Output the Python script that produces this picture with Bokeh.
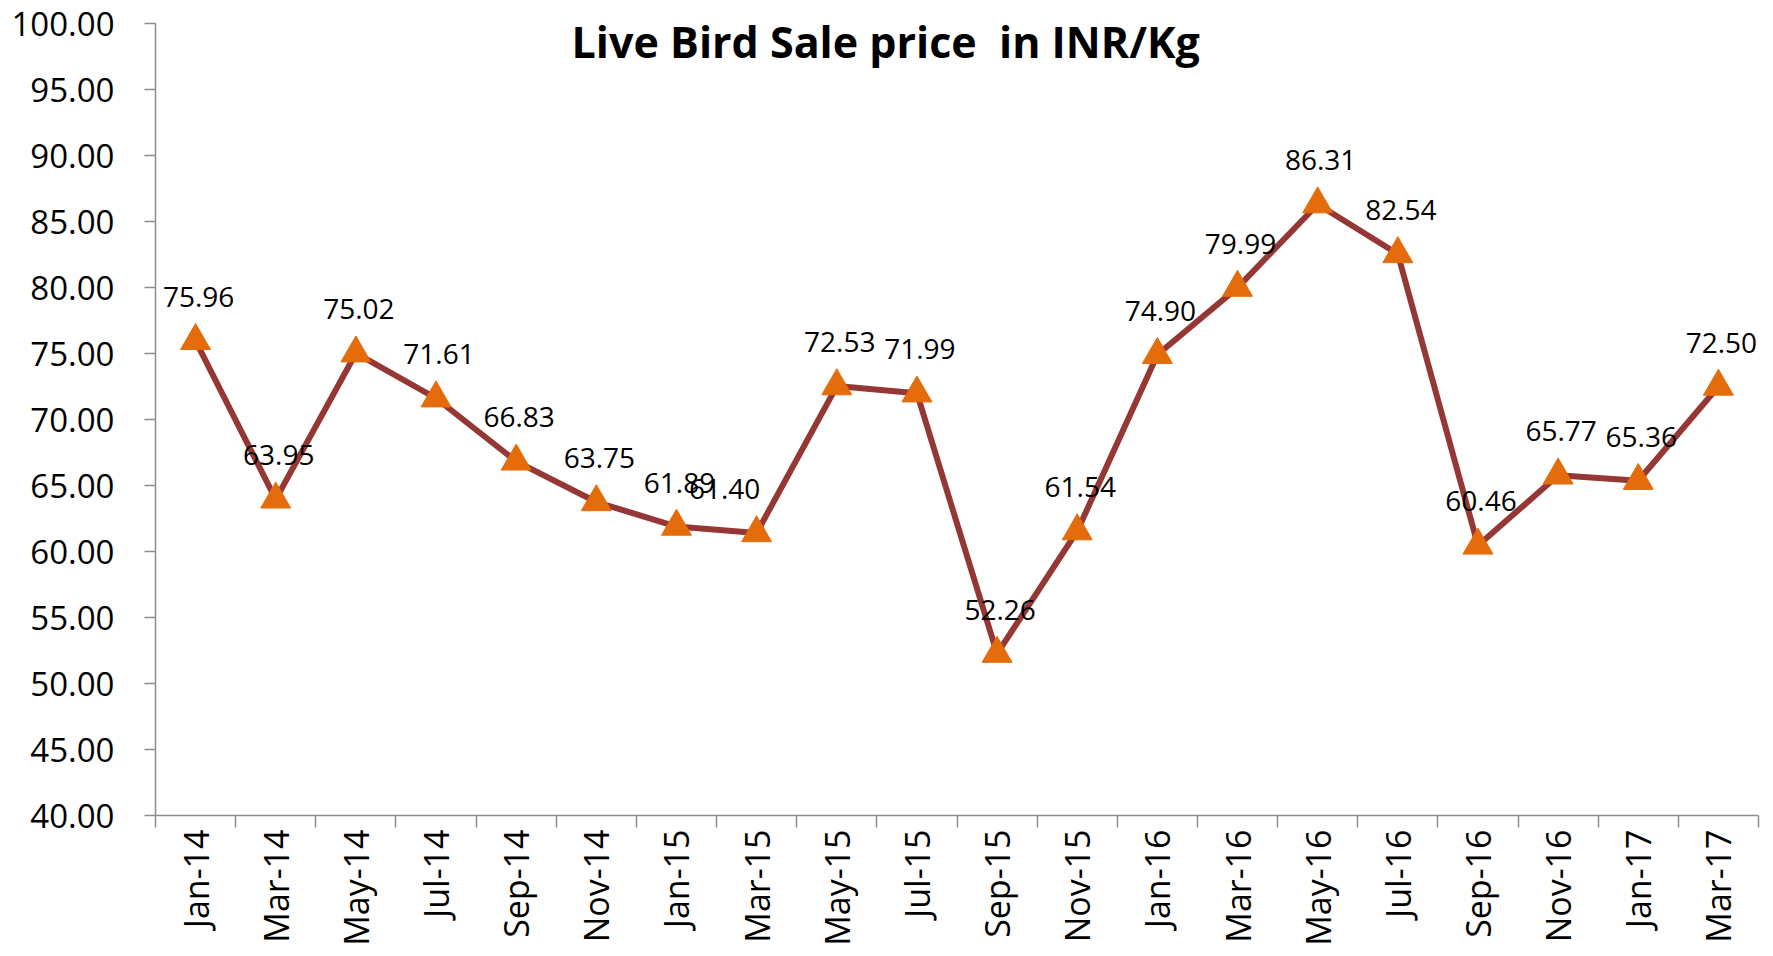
from bokeh.plotting import figure
from bokeh.models import Range1d, FixedTicker, NumeralTickFormatter, CustomJSTickFormatter, Label, ColumnDataSource
from bokeh.core.properties import value
from bokeh.embed import file_html
from bokeh.resources import INLINE

# ---- data ----
months = ["Jan-14", "Mar-14", "May-14", "Jul-14", "Sep-14", "Nov-14", "Jan-15", "Mar-15",
          "May-15", "Jul-15", "Sep-15", "Nov-15", "Jan-16", "Mar-16", "May-16", "Jul-16",
          "Sep-16", "Nov-16", "Jan-17", "Mar-17"]
prices = [75.96, 63.95, 75.02, 71.61, 66.83, 63.75, 61.89, 61.40,
          72.53, 71.99, 52.26, 61.54, 74.90, 79.99, 86.31, 82.54,
          60.46, 65.77, 65.36, 72.50]
y_ticks = [40, 45, 50, 55, 60, 65, 70, 75, 80, 85, 90, 95, 100]
title_text = "Live Bird Sale price \u00a0in INR/Kg"

# label horizontal nudges (style only)
label_dx = [3] * len(prices)
label_dx[7] = -32

FONT = "Open Sans"
LINE_COLOR = "#953735"
MARKER_COLOR = "#E46C0A"
AXIS_COLOR = "#8C8C8C"

n = len(months)
xs = [i + 0.5 for i in range(n)]
src = ColumnDataSource(dict(x=xs, y=prices, lbl=["%.2f" % v for v in prices], dx=label_dx))

p = figure(width=1765, height=948, output_backend="svg", toolbar_location=None,
           x_range=Range1d(0, n), y_range=Range1d(40, 100),
           min_border_left=155, min_border_right=7, min_border_top=23, min_border_bottom=132)
p.outline_line_color = None
p.xgrid.visible = False
p.ygrid.visible = False
p.background_fill_color = "white"
p.border_fill_color = "white"

# y axis
ya = p.yaxis[0]
ya.ticker = FixedTicker(ticks=y_ticks, minor_ticks=[])
ya.formatter = NumeralTickFormatter(format="0.00")
ya.axis_line_color = AXIS_COLOR
ya.axis_line_width = 1.5
ya.major_tick_line_color = AXIS_COLOR
ya.major_tick_line_width = 1.5
ya.major_tick_out = 11
ya.major_tick_in = 0
ya.minor_tick_line_color = None
ya.major_label_text_font = FONT
ya.major_label_text_font_size = "33px"
ya.major_label_text_color = "black"
ya.major_label_standoff = 30

# x axis: labels at category centres, ticks at category boundaries
xa = p.xaxis[0]
xa.ticker = FixedTicker(ticks=xs, minor_ticks=list(range(n + 1)))
xa.formatter = CustomJSTickFormatter(args=dict(labels=months),
                                     code="return labels[Math.floor(tick)] || '';")
xa.axis_line_color = AXIS_COLOR
xa.axis_line_width = 1.5
xa.major_tick_line_color = None
xa.major_tick_out = 0
xa.major_tick_in = 0
xa.minor_tick_line_color = AXIS_COLOR
xa.minor_tick_line_width = 1.5
xa.minor_tick_out = 12
xa.minor_tick_in = 0
xa.major_label_orientation = 1.5707963267948966
xa.major_label_text_font = FONT
xa.major_label_text_font_size = "34px"
xa.major_label_text_color = "black"
xa.major_label_standoff = 2

p.line("x", "y", source=src, line_color=LINE_COLOR, line_width=6)
p.scatter("x", "y", source=src, marker="triangle", size=30,
          fill_color=MARKER_COLOR, line_color=MARKER_COLOR)

p.text("x", "y", text="lbl", source=src, x_offset="dx", y_offset=-44,
       text_font=value(FONT), text_font_size="28px", text_color="black",
       text_align="center", text_baseline="middle")

p.add_layout(Label(x=9.11, y=98.6, text=title_text, text_font=FONT,
                   text_font_style="bold", text_font_size="43px", text_color="black",
                   text_align="center", text_baseline="middle"))

open("out.html", "w").write(file_html(p, INLINE))
